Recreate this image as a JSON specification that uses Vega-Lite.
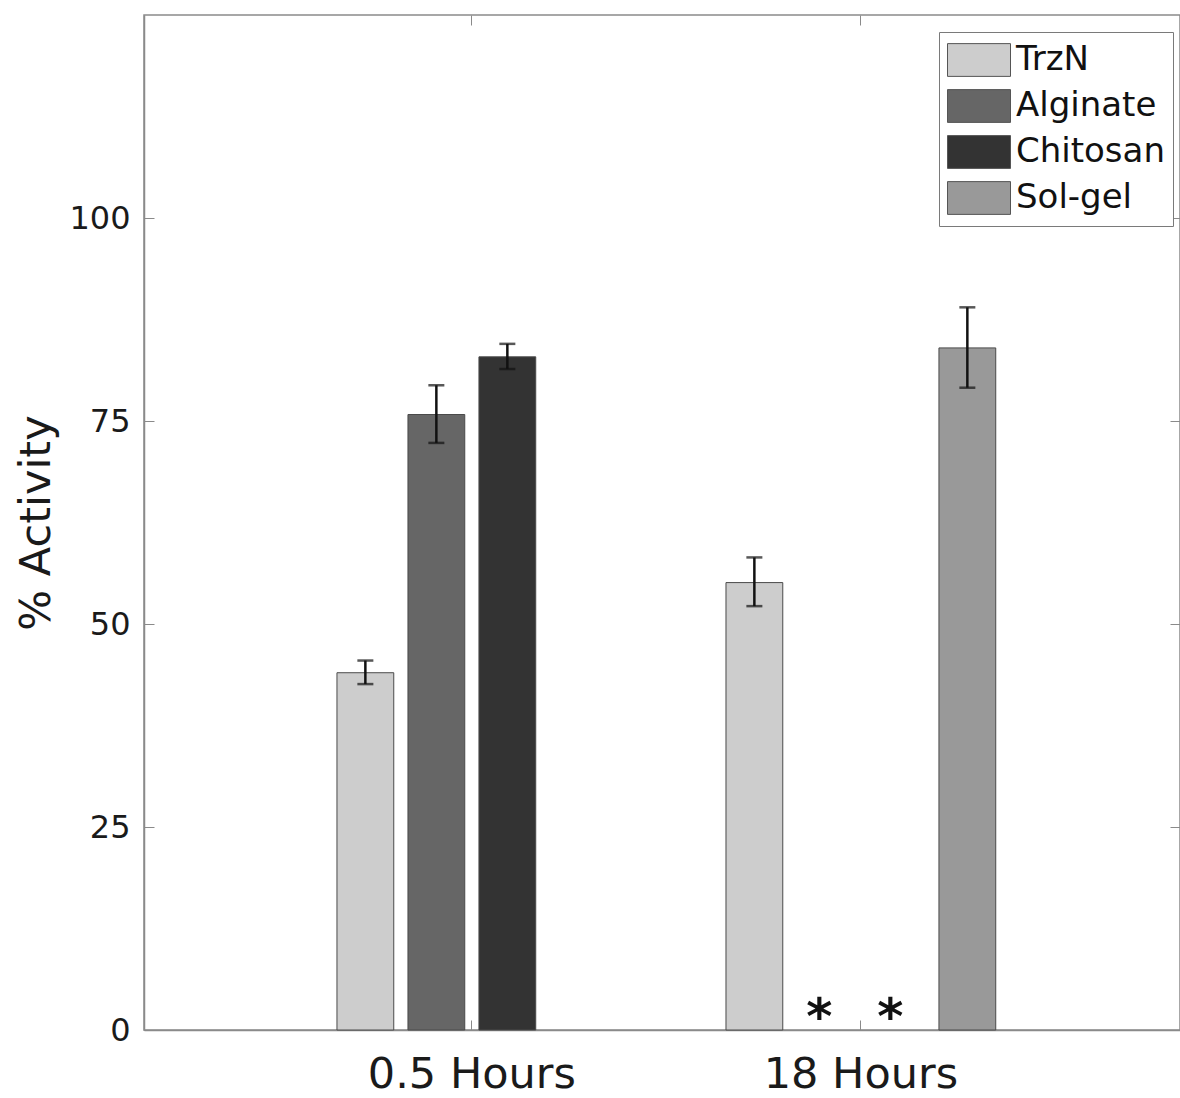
{
  "$schema": "https://vega.github.io/schema/vega-lite/v6.json",
  "width": 1036,
  "height": 1015,
  "autosize": {"type": "none"},
  "padding": {"left": 144, "top": 15, "right": 0, "bottom": 68},
  "background": "white",
  "config": {
    "view": {"stroke": "#8a8a8a", "strokeWidth": 1.5},
    "font": "DejaVu Sans",
    "axis": {"grid": false, "domainColor": "#8a8a8a", "domainWidth": 1.5, "tickColor": "#8a8a8a", "tickWidth": 1, "labelColor": "#1a1a1a", "titleColor": "#1a1a1a", "labelFont": "DejaVu Sans", "titleFont": "DejaVu Sans", "titleFontWeight": "normal", "labelLimit": 0}
  },
  "data": {
    "values": [
      {"time": "0.5 Hours", "group": "TrzN", "value": 44.0, "lo": 42.6, "hi": 45.5, "note": ""},
      {"time": "0.5 Hours", "group": "Alginate", "value": 75.8, "lo": 72.3, "hi": 79.4, "note": ""},
      {"time": "0.5 Hours", "group": "Chitosan", "value": 82.9, "lo": 81.4, "hi": 84.5, "note": ""},
      {"time": "18 Hours", "group": "TrzN", "value": 55.1, "lo": 52.2, "hi": 58.2, "note": ""},
      {"time": "18 Hours", "group": "Alginate", "value": null, "lo": null, "hi": null, "note": "*"},
      {"time": "18 Hours", "group": "Chitosan", "value": null, "lo": null, "hi": null, "note": "*"},
      {"time": "18 Hours", "group": "Sol-gel", "value": 84.0, "lo": 79.1, "hi": 89.0, "note": ""}
    ]
  },
  "encoding": {
    "x": {"field": "time", "type": "nominal", "sort": ["0.5 Hours", "18 Hours"],
          "scale": {"domain": ["0.5 Hours", "18 Hours"], "paddingInner": 0.27, "paddingOuter": 0.4666, "align": 0.512}},
    "xOffset": {"field": "group", "type": "nominal",
                "scale": {"domain": ["TrzN", "Alginate", "Chitosan", "Sol-gel"], "paddingInner": 0.2, "paddingOuter": 0.1}}
  },
  "layer": [
    {
      "mark": {"type": "bar", "stroke": "#4a4a4a", "strokeWidth": 1},
      "encoding": {
        "x": {"field": "time", "type": "nominal", "title": null,
              "axis": {"orient": "bottom", "labelAngle": 0, "labelFontSize": 43, "labelPadding": 33, "tickSize": -10, "domain": true, "labelLimit": 0}},
        "y": {"field": "value", "type": "quantitative", "title": "% Activity",
              "scale": {"domain": [0, 125], "nice": false},
              "axis": {"orient": "left", "values": [0, 25, 50, 75, 100], "labelFontSize": 32, "labelPadding": 24, "tickSize": -10, "titleFontSize": 43, "titlePadding": 10}},
        "color": {"field": "group", "type": "nominal",
                  "scale": {"domain": ["TrzN", "Alginate", "Chitosan", "Sol-gel"], "range": ["#cdcdcd", "#666666", "#333333", "#999999"]},
                  "legend": {"orient": "none", "legendX": 795, "legendY": 17, "title": null,
                             "symbolType": "M-1,-0.52H1V0.52H-1Z", "symbolSize": 3969, "symbolStrokeColor": "#555555", "symbolStrokeWidth": 1, "symbolOpacity": 1,
                             "labelFontSize": 34, "labelFont": "DejaVu Sans", "labelColor": "#111111", "labelOffset": 5,
                             "strokeColor": "#7a7a7a", "fillColor": "white", "padding": 8, "rowPadding": 6, "clipHeight": 40}}
      }
    },
    {
      "mark": {"type": "rule", "color": "#111111", "strokeWidth": 2.5},
      "encoding": {
        "x": {"field": "time", "type": "nominal", "axis": {"orient": "top", "labels": false, "domain": false, "tickSize": -10, "title": null}},
        "y": {"field": "lo", "type": "quantitative", "axis": {"orient": "right", "labels": false, "domain": false, "tickSize": -10, "title": null, "values": [0, 25, 50, 75, 100]}},
        "y2": {"field": "hi"}
      }
    },
    {
      "mark": {"type": "tick", "orient": "horizontal", "color": "#111111", "size": 16, "thickness": 2.5},
      "encoding": {"y": {"field": "lo", "type": "quantitative", "axis": null}, "x": {"field": "time", "type": "nominal", "axis": null}}
    },
    {
      "mark": {"type": "tick", "orient": "horizontal", "color": "#111111", "size": 16, "thickness": 2.5},
      "encoding": {"y": {"field": "hi", "type": "quantitative", "axis": null}, "x": {"field": "time", "type": "nominal", "axis": null}}
    },
    {
      "transform": [{"filter": "datum.note == '*'"}],
      "mark": {"type": "text", "fontSize": 50, "font": "DejaVu Sans", "fontWeight": "bold", "baseline": "alphabetic", "dy": 4, "dx": -6, "color": "#111111"},
      "encoding": {"y": {"datum": 0, "type": "quantitative", "axis": null}, "x": {"field": "time", "type": "nominal", "axis": null}, "text": {"field": "note"}}
    }
  ],
  "resolve": {"axis": {"x": "independent", "y": "independent"}}
}
